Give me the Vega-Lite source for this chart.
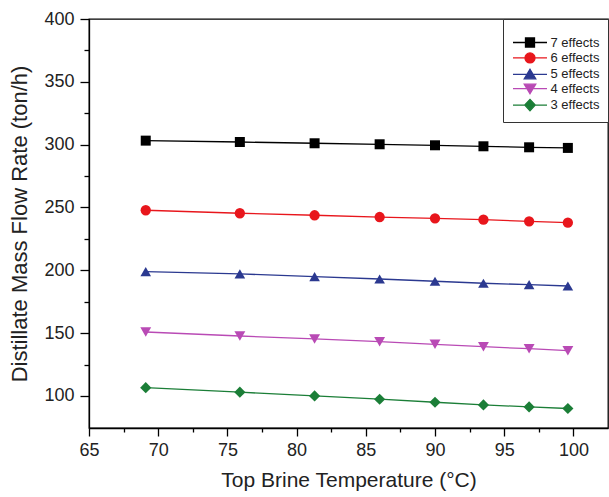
{
  "$schema": "https://vega.github.io/schema/vega-lite/v6.json",
  "width": 519,
  "height": 409,
  "autosize": {"type": "none"},
  "padding": {"left": 89, "top": 19, "right": 1, "bottom": 69},
  "background": "white",
  "config": {
    "font": "Liberation Sans",
    "view": {"stroke": "#000000", "strokeWidth": 1.3},
    "axis": {
      "grid": false,
      "domainColor": "#000000",
      "domainWidth": 1.3,
      "tickColor": "#000000",
      "tickWidth": 1.3,
      "labelFont": "Liberation Sans",
      "labelFontSize": 18,
      "labelColor": "#222222",
      "titleFont": "Liberation Sans",
      "titleFontSize": 21,
      "titleFontWeight": "normal",
      "titleColor": "#222222",
      "labelFlush": false,
      "labelOverlap": false
    },
    "legend": {
      "orient": "none",
      "legendX": 414,
      "legendY": 0,
      "padding": 8,
      "rowPadding": -0.6,
      "strokeColor": "#333333",
      "fillColor": "white",
      "symbolSize": 100,
      "symbolStrokeWidth": 1.3,
      "symbolOpacity": 1,
      "symbolOffset": 12.5,
      "labelOffset": 14,
      "labelFont": "Liberation Sans",
      "labelFontSize": 13,
      "labelColor": "#222222",
      "titleFontSize": 9,
      "titlePadding": 0
    }
  },
  "data": {
    "values": [
      {"series": "7 effects", "temp": 69.1, "flow": 303.2},
      {"series": "7 effects", "temp": 75.9, "flow": 302.1},
      {"series": "7 effects", "temp": 81.3, "flow": 301.1},
      {"series": "7 effects", "temp": 86.0, "flow": 300.3},
      {"series": "7 effects", "temp": 90.0, "flow": 299.5},
      {"series": "7 effects", "temp": 93.5, "flow": 298.7},
      {"series": "7 effects", "temp": 96.8, "flow": 297.9},
      {"series": "7 effects", "temp": 99.6, "flow": 297.4},
      {"series": "6 effects", "temp": 69.1, "flow": 247.8},
      {"series": "6 effects", "temp": 75.9, "flow": 245.4},
      {"series": "6 effects", "temp": 81.3, "flow": 243.8},
      {"series": "6 effects", "temp": 86.0, "flow": 242.4},
      {"series": "6 effects", "temp": 90.0, "flow": 241.4},
      {"series": "6 effects", "temp": 93.5, "flow": 240.3},
      {"series": "6 effects", "temp": 96.8, "flow": 239.0},
      {"series": "6 effects", "temp": 99.6, "flow": 237.9},
      {"series": "5 effects", "temp": 69.1, "flow": 198.9},
      {"series": "5 effects", "temp": 75.9, "flow": 197.1},
      {"series": "5 effects", "temp": 81.3, "flow": 195.0},
      {"series": "5 effects", "temp": 86.0, "flow": 193.1},
      {"series": "5 effects", "temp": 90.0, "flow": 191.3},
      {"series": "5 effects", "temp": 93.5, "flow": 189.7},
      {"series": "5 effects", "temp": 96.8, "flow": 188.6},
      {"series": "5 effects", "temp": 99.6, "flow": 187.5},
      {"series": "4 effects", "temp": 69.1, "flow": 150.9},
      {"series": "4 effects", "temp": 75.9, "flow": 147.7},
      {"series": "4 effects", "temp": 81.3, "flow": 145.4},
      {"series": "4 effects", "temp": 86.0, "flow": 143.2},
      {"series": "4 effects", "temp": 90.0, "flow": 141.1},
      {"series": "4 effects", "temp": 93.5, "flow": 139.2},
      {"series": "4 effects", "temp": 96.8, "flow": 137.6},
      {"series": "4 effects", "temp": 99.6, "flow": 136.0},
      {"series": "3 effects", "temp": 69.1, "flow": 106.6},
      {"series": "3 effects", "temp": 75.9, "flow": 103.0},
      {"series": "3 effects", "temp": 81.3, "flow": 100.0},
      {"series": "3 effects", "temp": 86.0, "flow": 97.4},
      {"series": "3 effects", "temp": 90.0, "flow": 95.0},
      {"series": "3 effects", "temp": 93.5, "flow": 92.9},
      {"series": "3 effects", "temp": 96.8, "flow": 91.3},
      {"series": "3 effects", "temp": 99.6, "flow": 90.0}
    ]
  },
  "layer": [
    {
      "mark": {"type": "line", "strokeWidth": 1.3},
      "encoding": {
        "x": {
          "field": "temp", "type": "quantitative",
          "scale": {"domain": [65, 102.5], "nice": false, "zero": false},
          "axis": {"title": "Top Brine Temperature (°C)", "values": [65, 70, 75, 80, 85, 90, 95, 100], "tickSize": 8, "labelPadding": 5, "titlePadding": 10}
        },
        "y": {
          "field": "flow", "type": "quantitative",
          "scale": {"domain": [74.5, 400], "nice": false, "zero": false},
          "axis": {"title": "Distillate Mass Flow Rate (ton/h)", "values": [100, 150, 200, 250, 300, 350, 400], "tickSize": 9, "labelPadding": 6, "titlePadding": 12, "titleFontSize": 22}
        },
        "color": {
          "field": "series", "type": "nominal",
          "scale": {"domain": ["7 effects", "6 effects", "5 effects", "4 effects", "3 effects"], "range": ["#000000", "#e8161c", "#2b3990", "#b94ab5", "#1b7e37"]},
          "legend": null
        },
        "detail": {"field": "series"}
      }
    },
    {
      "mark": {"type": "point", "filled": true, "opacity": 1},
      "encoding": {
        "x": {"field": "temp", "type": "quantitative", "axis": null},
        "y": {"field": "flow", "type": "quantitative", "axis": null},
        "color": {"field": "series", "type": "nominal", "legend": null},
        "shape": {
          "field": "series", "type": "nominal",
          "scale": {"domain": ["7 effects", "6 effects", "5 effects", "4 effects", "3 effects"], "range": ["square", "circle", "triangle-up", "triangle-down", "diamond"]},
          "legend": null
        },
        "size": {
          "field": "series", "type": "nominal",
          "scale": {"domain": ["7 effects", "6 effects", "5 effects", "4 effects", "3 effects"], "range": [100, 125, 170, 170, 150]},
          "legend": null
        }
      }
    },
    {
      "mark": {"type": "point", "filled": true, "opacity": 0, "size": 100},
      "encoding": {
        "x": {
          "field": "temp", "type": "quantitative",
          "axis": {"orient": "bottom", "values": [67.5, 72.5, 77.5, 82.5, 87.5, 92.5, 97.5], "labels": false, "domain": false, "title": null, "tickSize": 4}
        },
        "y": {
          "field": "flow", "type": "quantitative",
          "axis": {"orient": "left", "values": [125, 175, 225, 275, 325, 375], "labels": false, "domain": false, "title": null, "tickSize": 5}
        },
        "fill": {
          "field": "series", "type": "nominal",
          "scale": {"domain": ["7 effects", "6 effects", "5 effects", "4 effects", "3 effects"], "range": ["#000000", "#e8161c", "#2b3990", "#b94ab5", "#1b7e37"]},
          "legend": {"title": " "}
        },
        "stroke": {
          "field": "series", "type": "nominal",
          "scale": {"domain": ["7 effects", "6 effects", "5 effects", "4 effects", "3 effects"], "range": ["#000000", "#e8161c", "#2b3990", "#b94ab5", "#1b7e37"]},
          "legend": {"title": " "}
        },
        "shape": {
          "field": "series", "type": "nominal",
          "scale": {
            "domain": ["7 effects", "6 effects", "5 effects", "4 effects", "3 effects"],
            "range": [
              "M-3.4,0H3.4M-0.9,-0.9H0.9V0.9H-0.9Z",
              "M-3.4,0H3.4M1,0A1,1,0,1,1,-1,0A1,1,0,1,1,1,0Z",
              "M-3.4,0H3.4M0,-1L1.15,0.9H-1.15Z",
              "M-3.4,0H3.4M0,1L1.15,-0.9H-1.15Z",
              "M-3.4,0H3.4M0,-1.15L1.05,0L0,1.15L-1.05,0Z"
            ]
          },
          "legend": {"title": " "}
        }
      }
    }
  ],
  "resolve": {
    "scale": {"shape": "independent", "fill": "independent", "stroke": "independent"},
    "axis": {"x": "independent", "y": "independent"}
  }
}
